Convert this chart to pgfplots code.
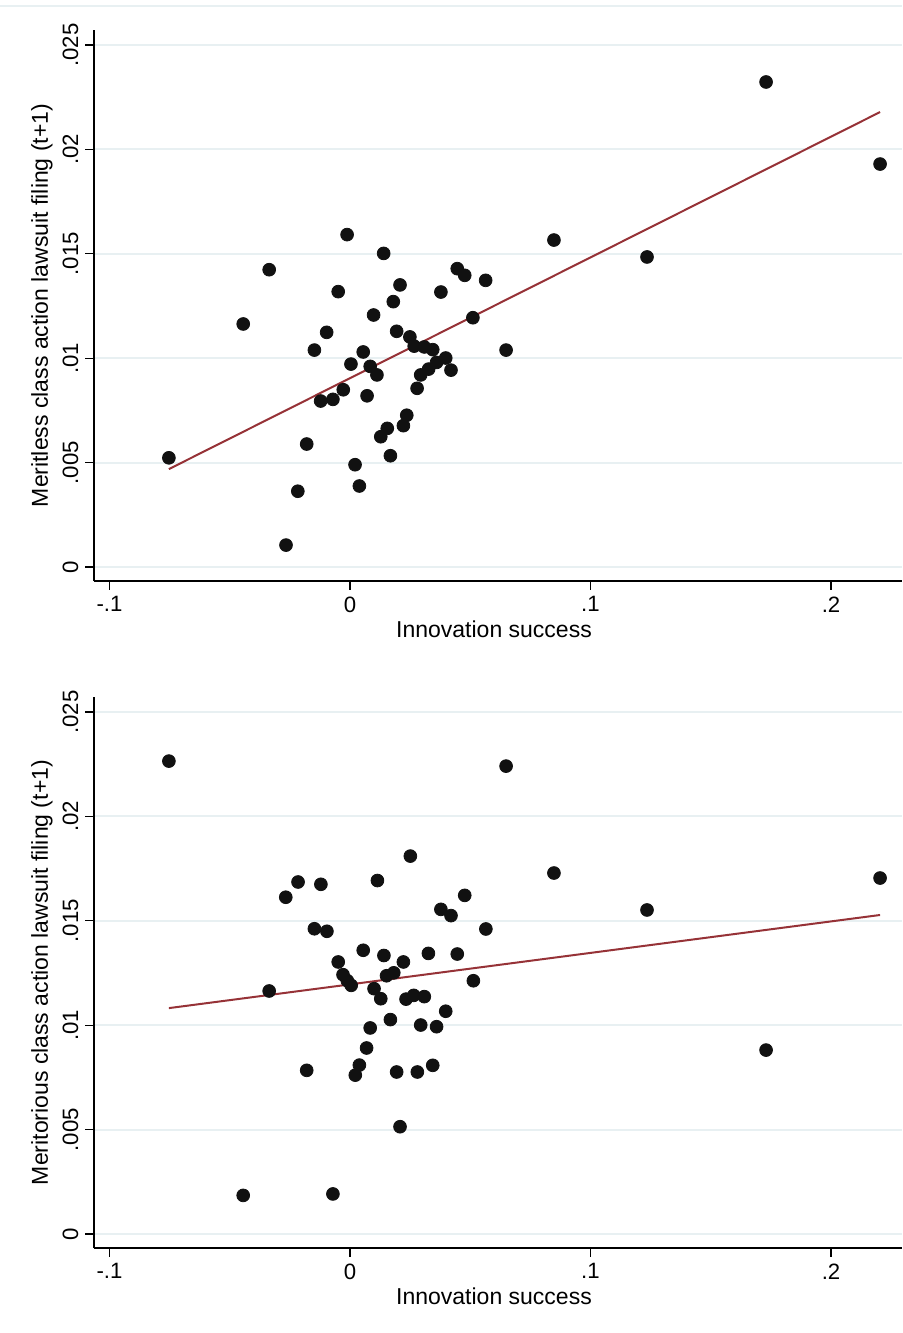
\documentclass[border=0pt]{standalone}
\usepackage{fontspec}
\setmainfont{Liberation Sans}
\usepackage{pgfplots}
\pgfplotsset{compat=1.18}
\usepackage{pgfplotstable}
\definecolor{gridc}{RGB}{232,240,242}
\definecolor{fitc}{RGB}{150,50,55}
\definecolor{dotc}{RGB}{17,17,17}

\pgfplotstableread{
x y
-0.0753 0.00523
-0.0444 0.01164
-0.0336 0.01424
-0.0266 0.00105
-0.0217 0.00363
-0.0180 0.00589
-0.0148 0.01039
-0.0122 0.00795
-0.0097 0.01124
-0.0071 0.00803
-0.0049 0.01319
-0.0028 0.00849
-0.0012 0.01592
0.0140 0.01502
0.0208 0.01351
0.0180 0.01271
0.0098 0.01207
0.0446 0.01429
0.0477 0.01397
0.0564 0.01373
0.0378 0.01317
0.0511 0.01194
0.0194 0.01129
0.0249 0.01102
0.0267 0.01058
0.0309 0.01054
0.0344 0.01041
0.0055 0.01030
0.0649 0.01039
0.0398 0.01001
0.0360 0.00980
0.0004 0.00972
0.0084 0.00961
0.0112 0.00920
0.0327 0.00948
0.0294 0.00920
0.0420 0.00943
0.0279 0.00856
0.0071 0.00820
0.0236 0.00727
0.0222 0.00677
0.0155 0.00664
0.0128 0.00624
0.0168 0.00533
0.0021 0.00490
0.0039 0.00388
0.0848 0.01566
0.1235 0.01485
0.1730 0.02323
0.2204 0.01930
}\topdata

\pgfplotstableread{
x y
-0.0753 0.02265
-0.0444 0.00185
-0.0336 0.01164
-0.0267 0.01613
-0.0216 0.01686
-0.0180 0.00784
-0.0148 0.01462
-0.0121 0.01675
-0.0096 0.01450
-0.0071 0.00192
-0.0049 0.01303
-0.0029 0.01242
-0.0011 0.01213
0.0005 0.01191
0.0055 0.01359
0.0114 0.01693
0.0141 0.01334
0.0152 0.01237
0.0182 0.01251
0.0222 0.01303
0.0100 0.01175
0.0128 0.01127
0.0233 0.01125
0.0265 0.01143
0.0309 0.01137
0.0251 0.01810
0.0326 0.01344
0.0378 0.01555
0.0420 0.01525
0.0477 0.01622
0.0446 0.01341
0.0565 0.01461
0.0513 0.01213
0.0398 0.01067
0.0168 0.01027
0.0084 0.00987
0.0294 0.01001
0.0360 0.00993
0.0069 0.00891
0.0039 0.00809
0.0022 0.00761
0.0194 0.00776
0.0280 0.00776
0.0344 0.00808
0.0208 0.00514
0.0649 0.02241
0.0848 0.01729
0.1235 0.01552
0.1730 0.00881
0.2204 0.01705
}\bottomdata

\pgfplotsset{
 stata/.style={
  scale only axis, width=404pt, height=275.5pt,
  xmin=-0.10644, xmax=0.22952, ymin=-0.00067, ymax=0.02572,
  axis x line*=bottom, axis y line*=left,
  axis line style={-, line width=0.6pt, black},
  tick align=outside, major tick length=4.25pt,
  tick style={line width=0.6pt, black},
  scaled y ticks=false, scaled x ticks=false,
  xtick={-0.1,0,0.1,0.2}, xticklabels={-.1,0,.1,.2},
  ytick={0,0.005,0.01,0.015,0.02,0.025},
  yticklabels={0,.005,.01,.015,.02,.025},
  ymajorgrids, grid style={gridc, line width=1pt},
  /pgf/number format/assume math mode=true,
  ticklabel style={font=\fontsize{11.1}{12}\selectfont},
  yticklabel style={rotate=90, anchor=south},
  every axis x label/.style={at={(axis description cs:0.5,0)}, anchor=north, yshift=-16.5pt, xshift=-2pt, font=\fontsize{11.5}{13}\selectfont},
  every axis y label/.style={at={(axis description cs:0,0.5)}, xshift=-26pt, rotate=90, anchor=center, font=\fontsize{11.5}{13}\selectfont},
  xlabel={Innovation success},
 },
 dots/.style={only marks, mark=*, mark size=3.2pt, mark options={fill=dotc, draw=dotc}},
 fit/.style={fitc, line width=1pt, no marks},
}

\begin{document}
\begin{tikzpicture}
\path[use as bounding box] (0,0) rectangle (451pt,-666.5pt);
\draw[gridc, line width=0.8pt] (0,-3pt) -- (451pt,-3pt);
\begin{axis}[stata, at={(47pt,-290.5pt)}, anchor=south west,
  ylabel={Meritless class action lawsuit filing (t+1)}]
\addplot[dots] table[x=x,y=y] {\topdata};
\addplot[fit] coordinates {(-0.0753,0.00469) (0.2204,0.02179)};
\end{axis}
\begin{axis}[stata, at={(47pt,-624pt)}, anchor=south west,
  ylabel={Meritorious class action lawsuit filing (t+1)}]
\addplot[dots] table[x=x,y=y] {\bottomdata};
\addplot[fit] coordinates {(-0.0753,0.01082) (0.2204,0.01528)};
\end{axis}
\end{tikzpicture}
\end{document}
